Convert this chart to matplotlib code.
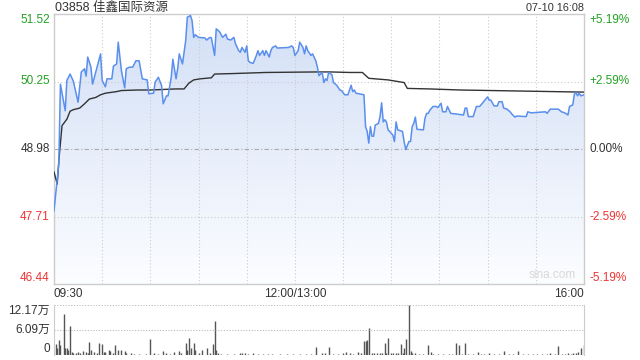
import matplotlib
matplotlib.use('Agg')
import matplotlib.pyplot as plt
import numpy as np
from matplotlib.patches import Polygon
from matplotlib.colors import LinearSegmentedColormap

plt.rcParams['font.family'] = ['Liberation Sans', 'Noto Sans CJK SC', 'DejaVu Sans']

# 表示テキスト
title = '03858 佳鑫国际资源'
stamp = '07-10 16:08'
time_labels = ['09:30', '12:00/13:00', '16:00']
time_label_pos = [0, 150, 330]

# 価格軸
price_ticks = [51.52, 50.25, 48.98, 47.71, 46.44]
pct_ticks = ['+5.19%', '+2.59%', '0.00%', '-2.59%', '-5.19%']
tick_colors = ['#22a022', '#22a022', '#333333', '#ee3333', '#ee3333']

# 出来高軸
vol_ticks = [12.17, 6.09, 0]
vol_tick_labels = ['12.17万', '6.09万', '0']

# 価格 (取引開始からの分)
price_min = [0, 3, 4, 7, 8, 10, 12, 15, 17, 19, 20, 21, 23, 24, 29, 30, 32, 33, 36, 37,
             39, 40, 42, 44, 45, 47, 49, 51, 53, 55, 58, 59, 62, 63, 65, 67, 68, 70, 71, 73,
             74, 76, 77, 78, 80, 82, 83, 85, 86, 87, 88, 90, 94, 95, 97, 98, 100, 101, 103, 105,
             107, 108, 110, 112, 113, 115, 116, 117, 119, 120, 121, 122, 124, 126, 127, 128, 130, 131, 132, 134,
             135, 136, 138, 139, 146, 148, 149, 150, 152, 153, 155, 156, 157, 158, 160, 161, 163, 164, 165, 167,
             168, 169, 170, 171, 173, 174, 176, 178, 179, 181, 183, 185, 186, 187, 188, 193, 194, 195, 196, 197,
             198, 199, 200, 202, 203, 204, 205, 206, 207, 208, 209, 211, 212, 213, 214, 217, 218, 219, 221, 222,
             223, 224, 225, 226, 230, 231, 232, 233, 234, 236, 238, 239, 241, 242, 244, 245, 247, 250, 255, 256,
             257, 258, 261, 263, 265, 267, 268, 270, 271, 272, 274, 276, 277, 279, 280, 282, 284, 285, 287, 288,
             294, 295, 297, 306, 307, 309, 314, 316, 318, 320, 321, 323, 324, 325, 326, 327, 328, 330]
price_val = [47.82, 48.70, 50.20, 49.70, 50.27, 50.39, 50.26, 49.86, 50.43, 50.49, 50.35, 50.71, 50.52, 50.20, 50.77, 50.27, 50.15, 50.30, 50.30, 50.54,
             50.58, 50.99, 50.45, 50.13, 50.49, 50.52, 50.52, 50.64, 50.64, 50.30, 50.28, 50.02, 50.03, 50.24, 50.33, 50.17, 49.83, 49.98, 49.98, 50.33,
             50.67, 50.30, 50.49, 50.77, 50.58, 51.02, 51.46, 51.49, 51.39, 51.08, 51.13, 51.08, 51.07, 51.03, 51.08, 51.07, 50.74, 51.24, 51.19, 51.08,
             51.14, 51.05, 51.03, 51.08, 50.96, 50.83, 50.80, 50.89, 50.80, 50.92, 50.64, 50.61, 50.59, 50.74, 50.83, 50.74, 50.83, 50.74, 50.83, 50.71,
             50.83, 50.89, 50.92, 50.88, 50.89, 50.92, 50.89, 50.74, 50.83, 50.99, 50.89, 50.77, 50.92, 50.83, 50.74, 50.77, 50.64, 50.52, 50.36, 50.42,
             50.23, 50.30, 50.27, 50.42, 50.38, 50.23, 50.18, 50.09, 50.08, 50.00, 50.00, 50.18, 50.06, 50.09, 50.03, 50.00, 49.40, 49.31, 49.09, 49.40,
             49.22, 49.22, 49.43, 49.46, 49.59, 49.85, 49.49, 49.53, 49.49, 49.34, 49.31, 49.24, 49.12, 49.49, 49.34, 49.31, 49.12, 48.97, 49.12, 49.12,
             49.40, 49.46, 49.58, 49.35, 49.34, 49.56, 49.65, 49.65, 49.71, 49.78, 49.78, 49.76, 49.84, 49.68, 49.68, 49.78, 49.65, 49.64, 49.62, 49.75,
             49.75, 49.59, 49.59, 49.78, 49.78, 49.85, 49.89, 49.96, 49.90, 49.90, 49.79, 49.79, 49.87, 49.87, 49.75, 49.73, 49.68, 49.64, 49.58, 49.60,
             49.59, 49.68, 49.66, 49.68, 49.65, 49.73, 49.73, 49.68, 49.66, 49.62, 49.78, 49.81, 50.01, 50.04, 49.98, 50.03, 49.98, 50.00]

# 均価
avg_min = [0, 2, 3, 5, 8, 10, 12, 16, 19, 22, 26, 29, 32, 39, 42, 52, 60, 76, 81, 84,
           87, 91, 98, 100, 112, 132, 164, 172, 184, 192, 196, 208, 218, 220, 234, 253, 330]
avg_val = [48.55, 48.32, 48.76, 49.42, 49.54, 49.69, 49.72, 49.75, 49.83, 49.92, 49.95, 50.00, 50.03, 50.06, 50.08, 50.09, 50.09, 50.11, 50.11, 50.22,
           50.28, 50.30, 50.32, 50.39, 50.40, 50.42, 50.43, 50.43, 50.42, 50.42, 50.31, 50.28, 50.23, 50.12, 50.11, 50.09, 50.05]

# 出来高 (万)
vol_min = [1, 2, 3, 4, 6, 7, 8, 9, 10, 11, 12, 14, 15, 16, 18, 20, 21, 22, 23, 25,
           27, 28, 30, 31, 32, 34, 35, 37, 38, 40, 42, 44, 45, 48, 50, 53, 57, 60, 62, 65,
           68, 70, 72, 75, 78, 79, 82, 83, 84, 85, 87, 88, 90, 92, 95, 97, 99, 100, 101, 102,
           104, 108, 112, 116, 117, 119, 121, 124, 127, 130, 133, 136, 141, 145, 149, 153, 157, 160, 163, 167,
           169, 171, 174, 177, 180, 182, 184, 186, 189, 191, 193, 194, 195, 196, 198, 199, 201, 203, 204, 206,
           207, 208, 210, 211, 213, 214, 216, 217, 218, 219, 221, 222, 223, 225, 227, 230, 233, 235, 236, 239,
           242, 246, 248, 250, 252, 254, 256, 258, 261, 264, 266, 268, 271, 274, 277, 280, 283, 286, 289, 292,
           295, 298, 301, 304, 307, 309, 312, 314, 316, 318, 320, 322, 323, 325, 326, 328, 330]
vol_val = [2.7, 1.6, 3.65, 2.4, 10.0, 1.6, 1.6, 1.3, 7.06, 0.8, 0.6, 0.6, 0.8, 0.6, 1.0, 0.8, 0.6, 3.2, 1.2, 0.8,
           0.5, 3.0, 2.6, 0.8, 0.8, 1.2, 1.0, 0.5, 2.4, 1.2, 1.2, 1.0, 0.5, 0.5, 0.3, 0.3, 0.3, 3.9, 0.5, 0.3,
           1.0, 0.5, 0.3, 0.8, 1.0, 0.5, 3.0, 1.2, 4.05, 1.8, 3.0, 1.2, 0.5, 1.2, 1.6, 0.4, 2.6, 8.3, 1.2, 0.6,
           0.3, 0.3, 0.3, 0.6, 0.4, 0.5, 0.3, 0.4, 0.3, 0.3, 0.3, 0.3, 0.3, 0.3, 0.3, 0.3, 0.3, 0.3, 2.0, 0.6,
           0.4, 2.0, 0.3, 0.3, 0.4, 0.8, 0.4, 0.3, 0.8, 0.4, 3.4, 3.4, 3.65, 6.5, 0.5, 0.6, 0.4, 0.6, 0.4, 2.8,
           0.4, 4.05, 0.4, 0.6, 0.6, 0.4, 2.7, 0.5, 1.8, 3.8, 12.17, 1.0, 0.4, 0.4, 0.3, 0.3, 2.4, 0.8, 0.3, 0.3,
           0.3, 0.3, 0.3, 2.8, 2.4, 0.3, 2.8, 0.3, 0.3, 0.8, 0.3, 0.3, 0.6, 0.3, 0.3, 0.9, 0.3, 0.3, 0.9, 0.3,
           0.3, 0.3, 0.3, 0.3, 0.3, 0.6, 0.3, 2.2, 0.3, 0.3, 0.5, 0.3, 0.6, 0.6, 0.8, 1.6, 2.4]

W, H = 640, 360
fig = plt.figure(figsize=(W / 100, H / 100), dpi=100)
fig.patch.set_facecolor('white')

# 価格チャート
ax = fig.add_axes([54 / W, 1 - 284 / H, 530 / W, 270 / H])
ymin, ymax = price_ticks[-1], price_ticks[0]
prev_close = price_ticks[2]

# 価格線の下をグラデーションで塗る
verts = [(price_min[0], ymin)] + list(zip(price_min, price_val)) + [(price_min[-1], ymin)]
poly = Polygon(verts, facecolor='none', edgecolor='none')
ax.add_patch(poly)
cmap = LinearSegmentedColormap.from_list('fill', ['#fcfdff', '#d2dff6'])
img = ax.imshow(np.linspace(0, 1, 256).reshape(-1, 1), cmap=cmap, origin='lower',
                extent=[0, 330, ymin, ymax], aspect='auto', zorder=1)
img.set_clip_path(poly)

for v in [price_ticks[1], price_ticks[3]]:
    ax.axhline(v, color='#cccccc', lw=0.8, ls=(0, (1, 2)), zorder=2)
ax.axhline(prev_close, color='#aaaaaa', lw=0.8, ls=(0, (4, 2, 1, 2)), zorder=2)
for m in range(30, 330, 30):
    ax.axvline(m, color='#cccccc', lw=0.8, ls=(0, (1, 2)), zorder=2)

ax.plot(avg_min, avg_val, color='#333333', lw=1.0, zorder=3)
ax.plot(price_min, price_val, color='#5a8fee', lw=1.1, zorder=4)

ax.set_xlim(0, 330)
ax.set_ylim(ymin, ymax)
ax.set_xticks([])
ax.set_yticks([])
for s in ax.spines.values():
    s.set_color('#cccccc')
    s.set_linewidth(1)

vas = ['top', 'center', 'center', 'center', 'bottom']
for v, p, c, va in zip(price_ticks, pct_ticks, tick_colors, vas):
    ax.text(-0.008, v, f'{v:.2f}', transform=ax.get_yaxis_transform(), ha='right', va=va,
            color=c, fontsize=8.5)
    ax.text(1.01, v, p, transform=ax.get_yaxis_transform(), ha='left', va=va,
            color=c, fontsize=8.5)

ax.text(0.985, 0.01, 'sina.com', transform=ax.transAxes, ha='right', va='bottom',
        color='#d8d8d8', fontsize=8.5, zorder=5)

# 時刻ラベル
for lab, m, ha in zip(time_labels, time_label_pos, ['left', 'center', 'right']):
    xf = (54 + m / 330 * 530) / W
    fig.text(xf, 1 - 294 / H, lab, ha=ha, va='center', fontsize=8.5, color='#333333')

fig.text(55 / W, 1 - 8 / H, title, ha='left', va='center', fontsize=9, color='#333333')
fig.text(584 / W, 1 - 8 / H, stamp, ha='right', va='center', fontsize=7.8, color='#333333')

# 出来高チャート
vax = fig.add_axes([54 / W, 1 - 355 / H, 530 / W, 50 / H])
vax.vlines(vol_min, 0, vol_val, color='#555555', lw=1.0)
for v in vol_ticks[:2]:
    vax.axhline(v, color='#bbbbbb', lw=0.8, ls=(0, (1, 1.5)))
vax.set_xlim(0, 330)
vax.set_ylim(0, vol_ticks[0])
vax.set_xticks([])
vax.set_yticks([])
for s in vax.spines.values():
    s.set_color('#cccccc')
vax.spines['top'].set_visible(False)
vax.spines['bottom'].set_visible(False)
for v, lab, va in zip(vol_ticks, vol_tick_labels, ['top', 'center', 'bottom']):
    vax.text(-0.008, v, lab, transform=vax.get_yaxis_transform(), ha='right', va=va,
             fontsize=8.5, color='#333333')

fig.savefig('out.png', dpi=100)
